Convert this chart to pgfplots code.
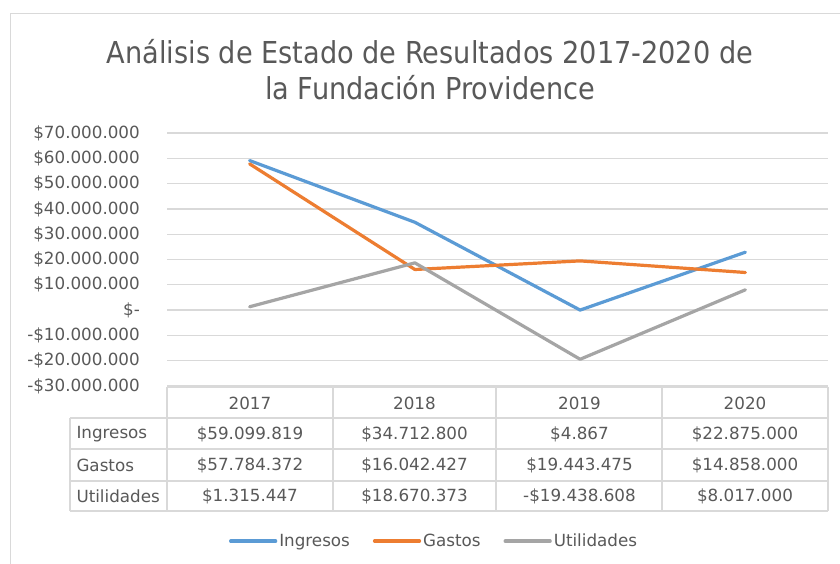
\documentclass[border=0pt]{standalone}
\usepackage{pgfplots}
\pgfplotsset{compat=1.18}
\usepackage{fontspec}
\setmainfont{DejaVu Sans}
\newfontfamily\titlefont{DejaVu Sans}[FakeStretch=0.9]
\definecolor{txt}{HTML}{595959}
\definecolor{gridc}{HTML}{D9D9D9}
\definecolor{cIng}{HTML}{5B9BD5}
\definecolor{cGas}{HTML}{ED7D31}
\definecolor{cUti}{HTML}{A5A5A5}
\newcommand{\tf}{\fontsize{16.8}{20}\selectfont}
\begin{document}
\begin{tikzpicture}[x=1bp,y=1bp]
\useasboundingbox (0,0) rectangle (840,564);
\fill[white] (0,0) rectangle (840,564);
\draw[gridc, line width=1.3bp] (10.5,0) -- (10.5,550.5) -- (840,550.5);
\node[text=txt, font=\titlefont\fontsize{30.3}{36}\selectfont] at (430,512) {Análisis de Estado de Resultados 2017-2020 de};
\node[text=txt, font=\titlefont\fontsize{30.3}{36}\selectfont] at (430,476) {la Fundación Providence};
\begin{axis}[
  at={(167bp,178bp)}, anchor=south west,
  scale only axis, width=661bp, height=253bp,
  xmin=0.5, xmax=4.5, ymin=-30000000, ymax=70000000,
  axis line style={draw=none},
  xtick=\empty,
  ytick={-30000000,-20000000,-10000000,0,10000000,20000000,30000000,40000000,50000000,60000000,70000000},
  yticklabels={-\$30.000.000,-\$20.000.000,-\$10.000.000,\$-,\$10.000.000,\$20.000.000,\$30.000.000,\$40.000.000,\$50.000.000,\$60.000.000,\$70.000.000},
  scaled y ticks=false,
  major tick length=0pt,
  ymajorgrids, grid style={gridc, line width=1.3bp},
  yticklabel style={font=\tf, text=txt, inner sep=0pt, xshift=-27bp},
  legend style={font=\tf, text=txt, draw=none, fill=none, legend columns=3,
    at={(0.404,-0.613)}, anchor=center,
    /tikz/every even column/.append style={column sep=21bp}},
  legend image code/.code={\draw[#1, line width=3.2bp, line cap=round] (0bp,0bp) -- (45bp,0bp);},
  every axis plot/.append style={line width=3.2bp, line cap=round, line join=round},
]
\addplot[cIng] coordinates {(1,59099819) (2,34712800) (3,4867) (4,22875000)};
\addlegendentry{Ingresos}
\addplot[cGas] coordinates {(1,57784372) (2,16042427) (3,19443475) (4,14858000)};
\addlegendentry{Gastos}
\addplot[cUti] coordinates {(1,1315447) (2,18670373) (3,-19438608) (4,8017000)};
\addlegendentry{Utilidades}
\end{axis}
% data table
\begin{scope}[gridc, line width=1.3bp]
\draw (167,177) -- (828,177);
\foreach \yy in {146,115,83,53} {\draw (70,\yy) -- (828,\yy);}
\draw (70,146) -- (70,53);
\foreach \xx in {167,333,496,662,828} {\draw (\xx,177) -- (\xx,53);}
\end{scope}
\begin{scope}[text=txt, font=\tf]
\node at (250,161) {2017};
\node at (414.5,161) {2018};
\node at (579.5,161) {2019};
\node at (745,161) {2020};
\node[anchor=west] at (73,130) {Ingresos};
\node[anchor=west] at (73,99) {Gastos};
\node[anchor=west] at (73,68) {Utilidades};
\node at (250,130) {\$59.099.819};
\node at (414.5,130) {\$34.712.800};
\node at (579.5,130) {\$4.867};
\node at (745,130) {\$22.875.000};
\node at (250,99) {\$57.784.372};
\node at (414.5,99) {\$16.042.427};
\node at (579.5,99) {\$19.443.475};
\node at (745,99) {\$14.858.000};
\node at (250,68) {\$1.315.447};
\node at (414.5,68) {\$18.670.373};
\node at (579.5,68) {-\$19.438.608};
\node at (745,68) {\$8.017.000};
\end{scope}
\end{tikzpicture}
\end{document}
